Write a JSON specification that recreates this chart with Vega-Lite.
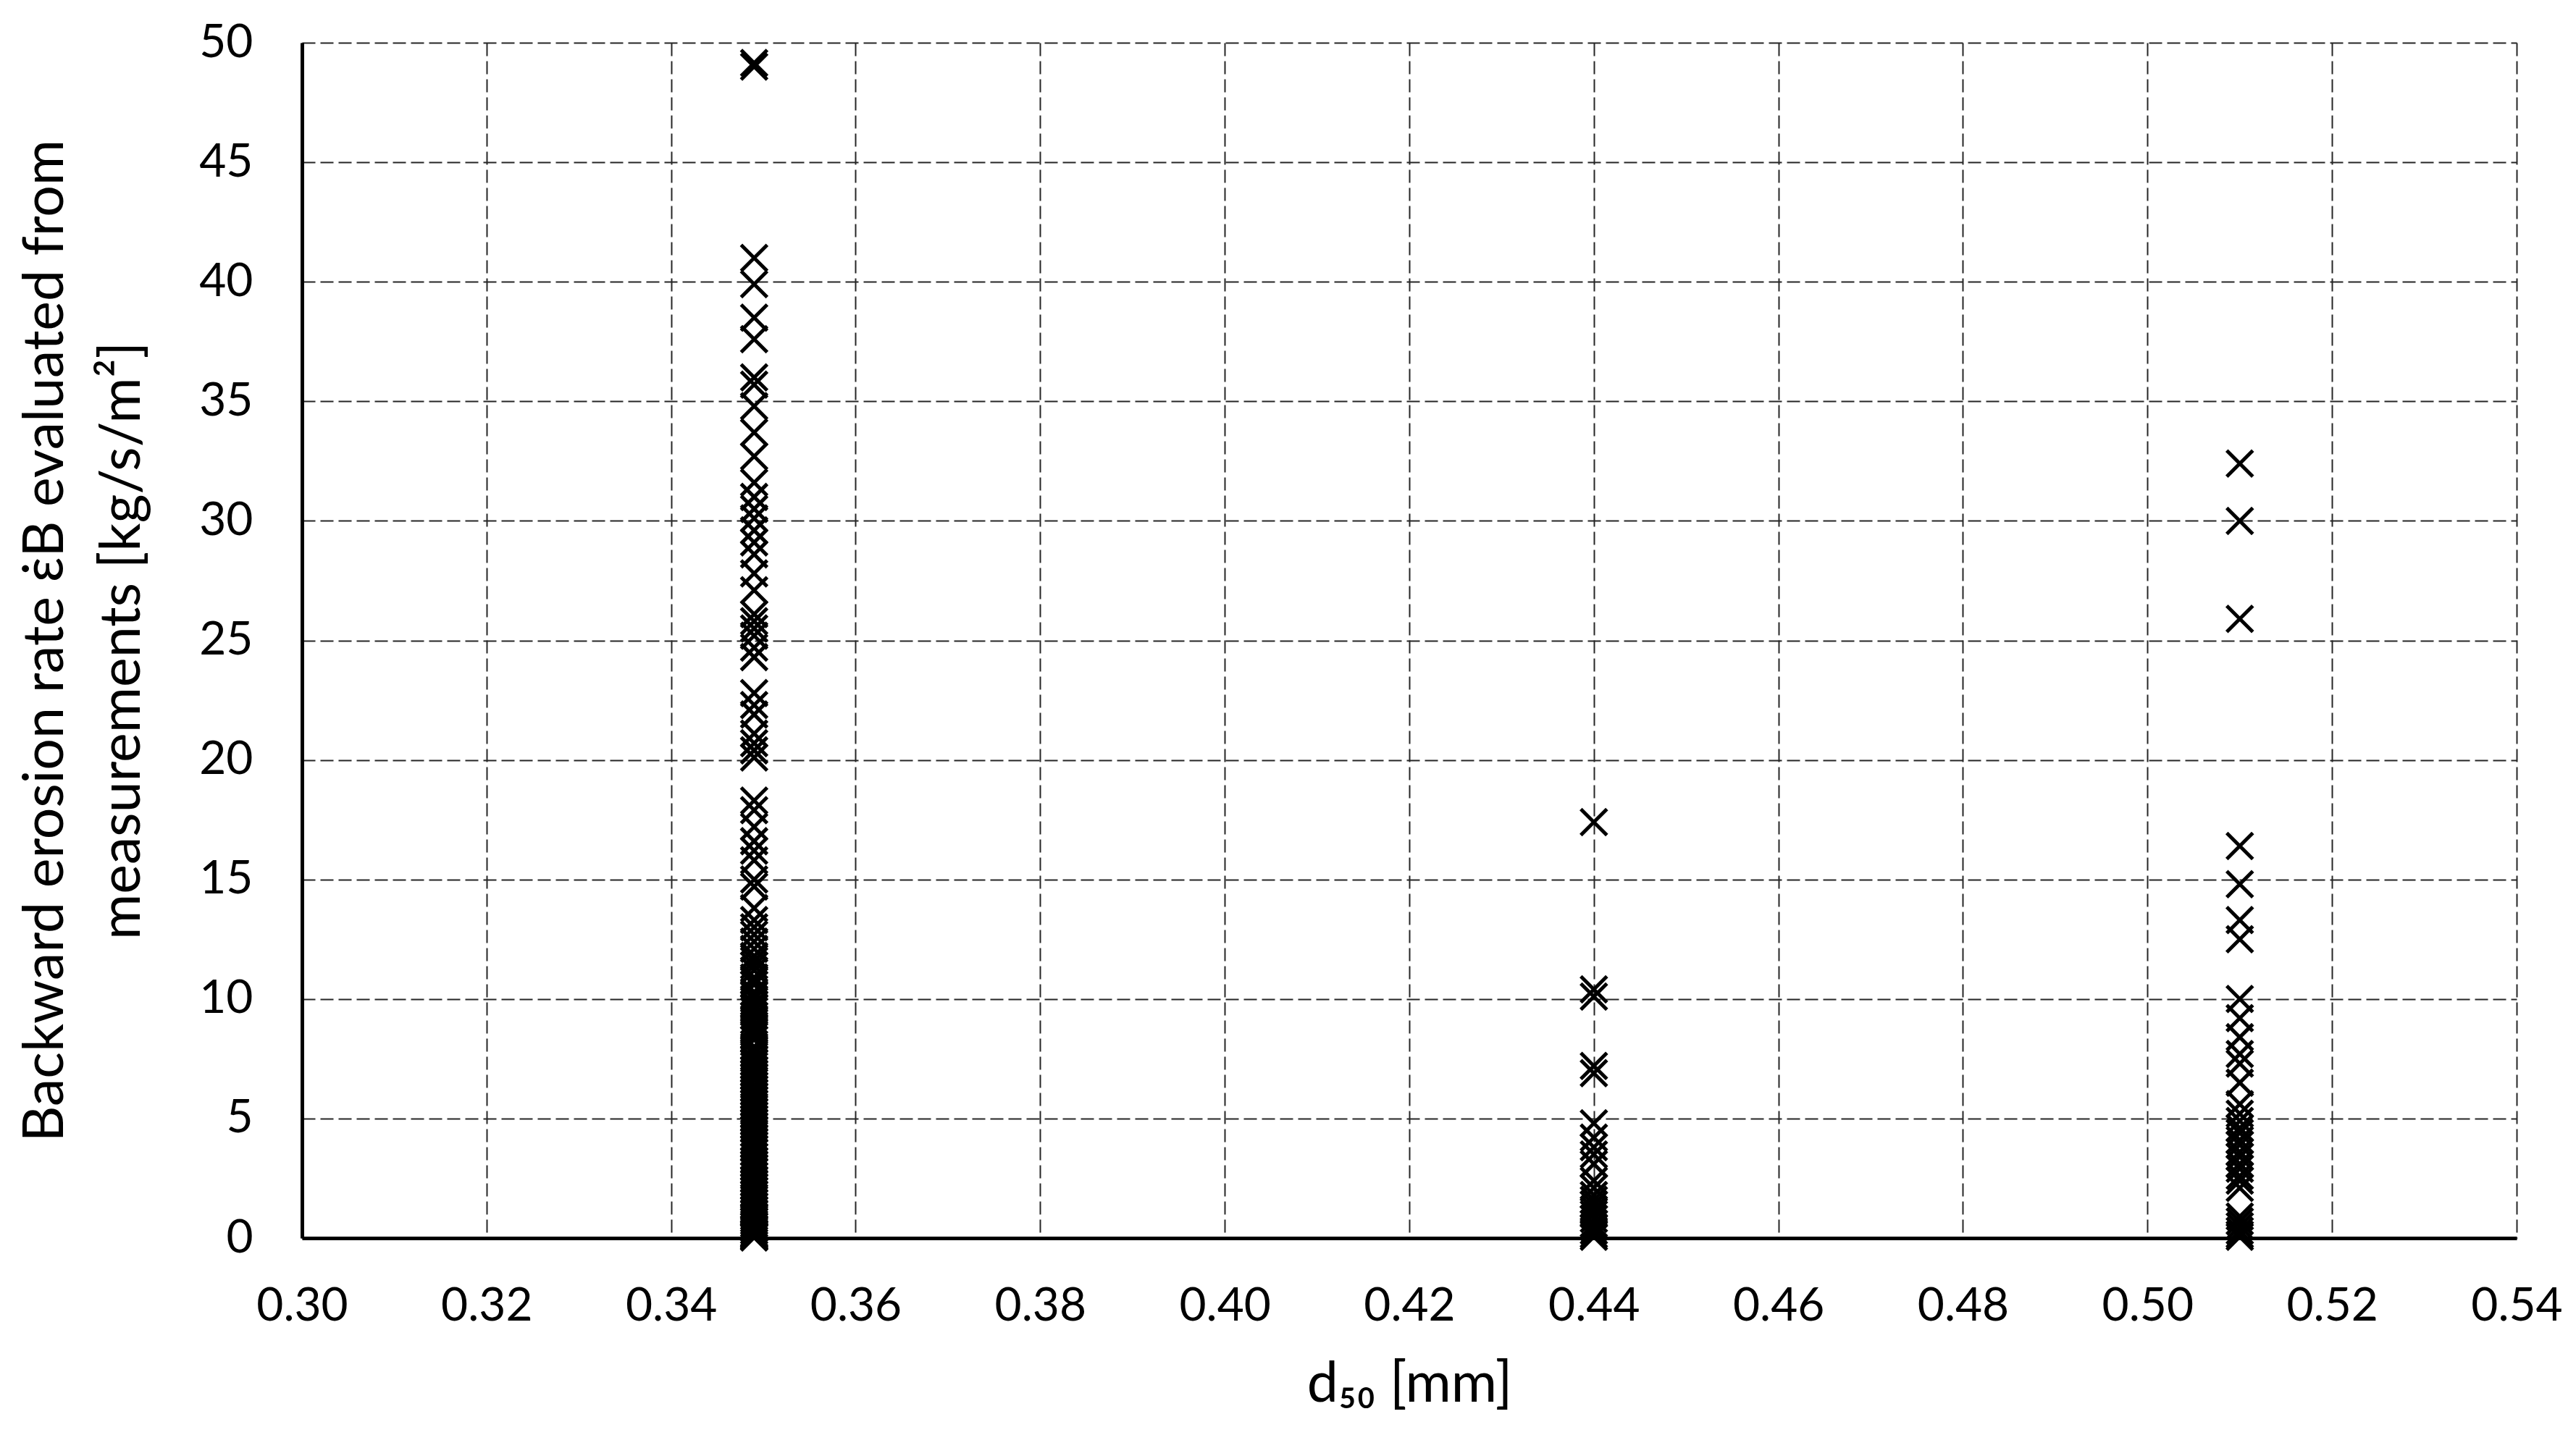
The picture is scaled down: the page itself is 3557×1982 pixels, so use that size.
{
  "$schema": "https://vega.github.io/schema/vega-lite/v6.json",
  "autosize": "none",
  "width": 3058,
  "height": 1651,
  "padding": {"left": 417, "top": 59, "right": 82, "bottom": 272},
  "background": "white",
  "config": {
    "view": {"stroke": null},
    "font": "Lato",
    "axis": {
      "labelFont": "Lato",
      "titleFont": "Lato",
      "labelFontSize": 64,
      "titleFontSize": 77,
      "labelColor": "black",
      "titleColor": "black",
      "titleFontWeight": "normal",
      "ticks": false,
      "tickSize": 0,
      "domainColor": "black",
      "domainWidth": 5,
      "grid": true,
      "gridColor": "#262626",
      "gridWidth": 2,
      "gridDash": [18, 7]
    }
  },
  "data": {
    "values": [
      {"d50": 0.349, "rate": 49.0}, {"d50": 0.349, "rate": 49.15}, {"d50": 0.349, "rate": 41.0}, {"d50": 0.349, "rate": 39.9},
      {"d50": 0.349, "rate": 38.5}, {"d50": 0.349, "rate": 37.6}, {"d50": 0.349, "rate": 36.0}, {"d50": 0.349, "rate": 35.7},
      {"d50": 0.349, "rate": 34.8}, {"d50": 0.349, "rate": 33.7}, {"d50": 0.349, "rate": 32.7}, {"d50": 0.349, "rate": 31.6},
      {"d50": 0.349, "rate": 31.0}, {"d50": 0.349, "rate": 30.5}, {"d50": 0.349, "rate": 30.1}, {"d50": 0.349, "rate": 29.6},
      {"d50": 0.349, "rate": 29.1}, {"d50": 0.349, "rate": 28.6}, {"d50": 0.349, "rate": 27.8}, {"d50": 0.349, "rate": 27.1},
      {"d50": 0.349, "rate": 26.1}, {"d50": 0.349, "rate": 25.8}, {"d50": 0.349, "rate": 25.5}, {"d50": 0.349, "rate": 25.2},
      {"d50": 0.349, "rate": 24.7}, {"d50": 0.349, "rate": 24.3}, {"d50": 0.349, "rate": 22.8}, {"d50": 0.349, "rate": 22.3},
      {"d50": 0.349, "rate": 21.9}, {"d50": 0.349, "rate": 21.1}, {"d50": 0.349, "rate": 20.7}, {"d50": 0.349, "rate": 20.4},
      {"d50": 0.349, "rate": 20.1}, {"d50": 0.349, "rate": 18.3}, {"d50": 0.349, "rate": 17.9}, {"d50": 0.349, "rate": 17.2},
      {"d50": 0.349, "rate": 16.6}, {"d50": 0.349, "rate": 16.2}, {"d50": 0.349, "rate": 15.8}, {"d50": 0.349, "rate": 15.0},
      {"d50": 0.349, "rate": 14.7}, {"d50": 0.349, "rate": 13.8}, {"d50": 0.349, "rate": 13.3}, {"d50": 0.349, "rate": 13.0},
      {"d50": 0.349, "rate": 12.7}, {"d50": 0.349, "rate": 12.4}, {"d50": 0.349, "rate": 12.1}, {"d50": 0.349, "rate": 11.8},
      {"d50": 0.349, "rate": 11.6}, {"d50": 0.349, "rate": 11.4}, {"d50": 0.349, "rate": 11.2}, {"d50": 0.349, "rate": 10.9},
      {"d50": 0.349, "rate": 10.75}, {"d50": 0.349, "rate": 10.6}, {"d50": 0.349, "rate": 10.3}, {"d50": 0.349, "rate": 10.15},
      {"d50": 0.349, "rate": 10.0}, {"d50": 0.349, "rate": 9.8}, {"d50": 0.349, "rate": 9.65}, {"d50": 0.349, "rate": 9.5},
      {"d50": 0.349, "rate": 9.3}, {"d50": 0.349, "rate": 9.1}, {"d50": 0.349, "rate": 8.9}, {"d50": 0.349, "rate": 8.75},
      {"d50": 0.349, "rate": 8.6}, {"d50": 0.349, "rate": 8.45}, {"d50": 0.349, "rate": 8.3}, {"d50": 0.349, "rate": 8.0},
      {"d50": 0.349, "rate": 7.85}, {"d50": 0.349, "rate": 7.7}, {"d50": 0.349, "rate": 7.5}, {"d50": 0.349, "rate": 7.35},
      {"d50": 0.349, "rate": 7.2}, {"d50": 0.349, "rate": 7.05}, {"d50": 0.349, "rate": 6.9}, {"d50": 0.349, "rate": 6.75},
      {"d50": 0.349, "rate": 6.6}, {"d50": 0.349, "rate": 6.4}, {"d50": 0.349, "rate": 6.25}, {"d50": 0.349, "rate": 6.1},
      {"d50": 0.349, "rate": 5.95}, {"d50": 0.349, "rate": 5.8}, {"d50": 0.349, "rate": 5.65}, {"d50": 0.349, "rate": 5.5},
      {"d50": 0.349, "rate": 5.3}, {"d50": 0.349, "rate": 5.15}, {"d50": 0.349, "rate": 5.0}, {"d50": 0.349, "rate": 4.85},
      {"d50": 0.349, "rate": 4.7}, {"d50": 0.349, "rate": 4.55}, {"d50": 0.349, "rate": 4.4}, {"d50": 0.349, "rate": 4.2},
      {"d50": 0.349, "rate": 4.05}, {"d50": 0.349, "rate": 3.9}, {"d50": 0.349, "rate": 3.75}, {"d50": 0.349, "rate": 3.6},
      {"d50": 0.349, "rate": 3.4}, {"d50": 0.349, "rate": 3.25}, {"d50": 0.349, "rate": 3.1}, {"d50": 0.349, "rate": 2.95},
      {"d50": 0.349, "rate": 2.8}, {"d50": 0.349, "rate": 2.6}, {"d50": 0.349, "rate": 2.45}, {"d50": 0.349, "rate": 2.3},
      {"d50": 0.349, "rate": 2.15}, {"d50": 0.349, "rate": 2.0}, {"d50": 0.349, "rate": 1.85}, {"d50": 0.349, "rate": 1.7},
      {"d50": 0.349, "rate": 1.5}, {"d50": 0.349, "rate": 1.35}, {"d50": 0.349, "rate": 1.2}, {"d50": 0.349, "rate": 1.05},
      {"d50": 0.349, "rate": 0.9}, {"d50": 0.349, "rate": 0.8}, {"d50": 0.349, "rate": 0.7}, {"d50": 0.349, "rate": 0.6},
      {"d50": 0.349, "rate": 0.5}, {"d50": 0.349, "rate": 0.4}, {"d50": 0.349, "rate": 0.3}, {"d50": 0.349, "rate": 0.2},
      {"d50": 0.349, "rate": 0.15}, {"d50": 0.349, "rate": 0.1}, {"d50": 0.349, "rate": 0.05}, {"d50": 0.349, "rate": 0.02},
      {"d50": 0.44, "rate": 17.4}, {"d50": 0.44, "rate": 10.4}, {"d50": 0.44, "rate": 10.1}, {"d50": 0.44, "rate": 7.2},
      {"d50": 0.44, "rate": 6.9}, {"d50": 0.44, "rate": 4.8}, {"d50": 0.44, "rate": 4.2}, {"d50": 0.44, "rate": 3.8},
      {"d50": 0.44, "rate": 3.5}, {"d50": 0.44, "rate": 3.1}, {"d50": 0.44, "rate": 2.4}, {"d50": 0.44, "rate": 2.1},
      {"d50": 0.44, "rate": 1.8}, {"d50": 0.44, "rate": 1.6}, {"d50": 0.44, "rate": 1.4}, {"d50": 0.44, "rate": 1.2},
      {"d50": 0.44, "rate": 1.0}, {"d50": 0.44, "rate": 0.8}, {"d50": 0.44, "rate": 0.6}, {"d50": 0.44, "rate": 0.45},
      {"d50": 0.44, "rate": 0.3}, {"d50": 0.44, "rate": 0.15}, {"d50": 0.44, "rate": 0.05},
      {"d50": 0.51, "rate": 32.4}, {"d50": 0.51, "rate": 30.0}, {"d50": 0.51, "rate": 25.9}, {"d50": 0.51, "rate": 16.4},
      {"d50": 0.51, "rate": 14.8}, {"d50": 0.51, "rate": 13.3}, {"d50": 0.51, "rate": 12.5}, {"d50": 0.51, "rate": 10.0},
      {"d50": 0.51, "rate": 9.2}, {"d50": 0.51, "rate": 8.4}, {"d50": 0.51, "rate": 7.7}, {"d50": 0.51, "rate": 7.3},
      {"d50": 0.51, "rate": 6.5}, {"d50": 0.51, "rate": 5.6}, {"d50": 0.51, "rate": 5.2}, {"d50": 0.51, "rate": 4.9},
      {"d50": 0.51, "rate": 4.6}, {"d50": 0.51, "rate": 4.4}, {"d50": 0.51, "rate": 4.1}, {"d50": 0.51, "rate": 3.9},
      {"d50": 0.51, "rate": 3.6}, {"d50": 0.51, "rate": 3.4}, {"d50": 0.51, "rate": 3.1}, {"d50": 0.51, "rate": 2.9},
      {"d50": 0.51, "rate": 2.6}, {"d50": 0.51, "rate": 2.4}, {"d50": 0.51, "rate": 2.1}, {"d50": 0.51, "rate": 0.9},
      {"d50": 0.51, "rate": 0.7}, {"d50": 0.51, "rate": 0.5}, {"d50": 0.51, "rate": 0.3}, {"d50": 0.51, "rate": 0.15},
      {"d50": 0.51, "rate": 0.05}
    ]
  },
  "mark": {
    "type": "point",
    "shape": "M-1,-1L1,1M1,-1L-1,1",
    "filled": false,
    "stroke": "black",
    "strokeWidth": 5,
    "size": 1296,
    "opacity": 1,
    "clip": false
  },
  "encoding": {
    "x": {
      "field": "d50",
      "type": "quantitative",
      "scale": {"domain": [0.3, 0.54], "nice": false, "zero": false},
      "axis": {
        "values": [0.3, 0.32, 0.34, 0.36, 0.38, 0.4, 0.42, 0.44, 0.46, 0.48, 0.5, 0.52, 0.54],
        "format": ".2f",
        "labelPadding": 62,
        "titlePadding": 38,
        "title": "d₅₀ [mm]",
        "labelFlush": false
      }
    },
    "y": {
      "field": "rate",
      "type": "quantitative",
      "scale": {"domain": [0, 50], "nice": false},
      "axis": {
        "values": [0, 5, 10, 15, 20, 25, 30, 35, 40, 45, 50],
        "labelPadding": 68,
        "titlePadding": 66,
        "title": ["Backward erosion rate ε̇B evaluated from", "measurements  [kg/s/m²]"],
        "titleLineHeight": 106,
        "labelFlush": false
      }
    }
  }
}
